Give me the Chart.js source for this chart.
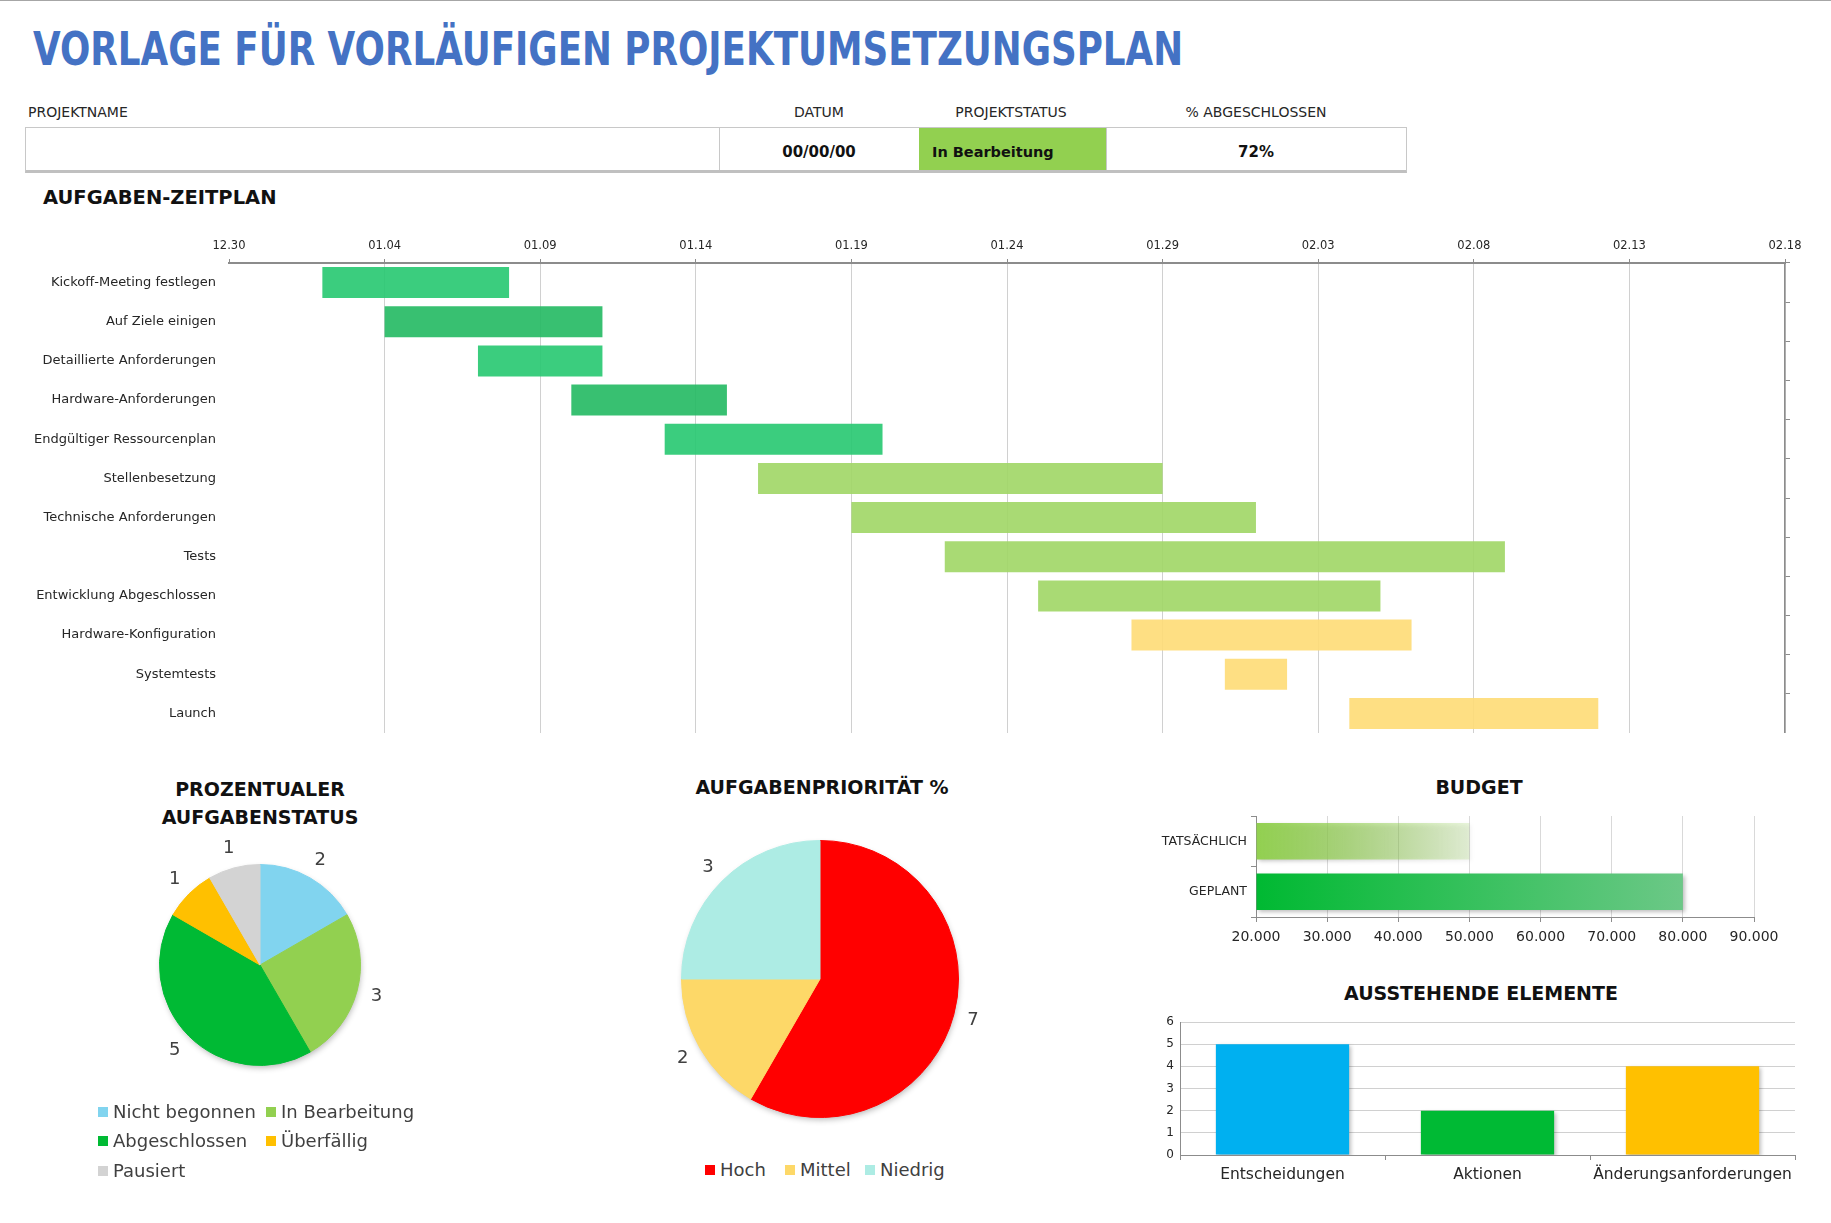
<!DOCTYPE html>
<html lang="de">
<head>
<meta charset="utf-8">
<title>Vorlage für vorläufigen Projektumsetzungsplan</title>
<script src="https://cdn.jsdelivr.net/npm/chart.js@4.4.1/dist/chart.umd.min.js"></script>
<style>
    html, body { margin: 0; padding: 0; background: #fff; }
    body { width: 1831px; height: 1223px; position: relative; overflow: hidden;
           font-family: 'DejaVu Sans', sans-serif; color: #262626; }
    .abs { position: absolute; white-space: nowrap; line-height: 1; }
    .c { transform: translateX(-50%); }
    .hdr { font-size: 14px; }
    .val { font-size: 15px; font-weight: bold; color: #111; }
    .ttl { font-size: 19px; font-weight: bold; color: #111; text-align: center; }
    .sq { position: absolute; width: 10px; height: 10px; }
    .lg { position: absolute; font-size: 18px; line-height: 1; color: #404040; white-space: nowrap; }
    canvas { position: absolute; }
</style>
</head>
<body>

<div class="abs" style="left:0;top:0;width:1831px;height:1px;background:#a6a6a6;"></div>
<div id="title" class="abs" style="left:33px;top:26px;font-size:46px;font-weight:bold;color:#4472c4;transform-origin:0 0;">VORLAGE FÜR VORLÄUFIGEN PROJEKTUMSETZUNGSPLAN</div>

<div class="abs hdr" style="left:28px;top:105px;">PROJEKTNAME</div>
<div class="abs hdr c" style="left:819px;top:105px;">DATUM</div>
<div class="abs hdr c" style="left:1011px;top:105px;">PROJEKTSTATUS</div>
<div class="abs hdr c" style="left:1256px;top:105px;">% ABGESCHLOSSEN</div>

<div class="abs" style="left:25px;top:127px;width:1382px;height:46px;box-sizing:border-box;border:1px solid #c8c8c8;border-bottom:3px solid #c0c0c0;"></div>
<div class="abs" style="left:719px;top:128px;width:1px;height:42px;background:#c8c8c8;"></div>
<div class="abs" style="left:919px;top:128px;width:187px;height:42px;background:#92d050;"></div>
<div class="abs" style="left:1106px;top:128px;width:1px;height:42px;background:#c8c8c8;"></div>
<div class="abs val c" style="left:819px;top:145px;">00/00/00</div>
<div class="abs val" style="left:932px;top:145px;font-size:14.5px;">In Bearbeitung</div>
<div class="abs val c" style="left:1256px;top:145px;">72%</div>

<div class="abs" style="left:43px;top:188px;font-size:19.5px;font-weight:bold;color:#111;">AUFGABEN-ZEITPLAN</div>

<canvas id="gantt" width="1831" height="508" style="left:0;top:225px;"></canvas>

<div class="abs ttl c" style="left:260px;top:775px;line-height:28px;">PROZENTUALER<br>AUFGABENSTATUS</div>
<canvas id="statusPie" width="282" height="282" style="left:119px;top:824px;"></canvas>
<div id="statusLegend"></div>

<div class="abs ttl c" style="left:822px;top:778px;">AUFGABENPRIORITÄT %</div>
<canvas id="priorityPie" width="358" height="358" style="left:641px;top:800px;"></canvas>
<div id="priorityLegend"></div>

<div class="abs ttl c" style="left:1479px;top:778px;">BUDGET</div>
<canvas id="budget" width="691" height="150" style="left:1140px;top:800px;"></canvas>

<div class="abs ttl c" style="left:1481px;top:984px;">AUSSTEHENDE ELEMENTE</div>
<canvas id="pending" width="691" height="190" style="left:1140px;top:1010px;"></canvas>

<script>
// ---- data ----
var taskNames = ['Kickoff-Meeting festlegen', 'Auf Ziele einigen', 'Detaillierte Anforderungen',
    'Hardware-Anforderungen', 'Endgültiger Ressourcenplan', 'Stellenbesetzung',
    'Technische Anforderungen', 'Tests', 'Entwicklung Abgeschlossen',
    'Hardware-Konfiguration', 'Systemtests', 'Launch'];
// days after 12.30
var taskStart = [3, 5, 8, 11, 14, 17, 20, 23, 26, 29, 32, 36];
var taskEnd = [9, 12, 12, 16, 21, 30, 33, 41, 37, 38, 34, 44];
var dateTicks = ['12.30', '01.04', '01.09', '01.14', '01.19', '01.24', '01.29', '02.03', '02.08', '02.13', '02.18'];

var statusLabels = ['Nicht begonnen', 'In Bearbeitung', 'Abgeschlossen', 'Überfällig', 'Pausiert'];
var statusCounts = [2, 3, 5, 1, 1];

var priorityLabels = ['Hoch', 'Mittel', 'Niedrig'];
var priorityCounts = [7, 2, 3];

var budgetLabels = ['TATSÄCHLICH', 'GEPLANT'];
var budgetValues = [50000, 80000];
var budgetMin = 20000, budgetMax = 90000;

var pendingLabels = ['Entscheidungen', 'Aktionen', 'Änderungsanforderungen'];
var pendingValues = [5, 2, 4];

// ---- colors ----
var taskColors = [
    'rgba(38,200,112,0.9)', 'rgba(34,185,98,0.9)', 'rgba(38,200,112,0.9)', 'rgba(34,185,98,0.9)',
    'rgba(38,200,112,0.9)', 'rgba(160,214,101,0.9)', 'rgba(160,214,101,0.9)', 'rgba(160,214,101,0.9)',
    'rgba(160,214,101,0.9)', 'rgba(254,219,118,0.9)', 'rgba(254,219,118,0.9)', 'rgba(254,219,118,0.9)'
];
var statusColors = ['#81d4ef', '#92d050', '#00ba34', '#ffc000', '#d3d3d3'];
var priorityColors = ['#ff0000', '#fdd868', '#adece4'];
var budgetFrom = ['#92d050', '#00b932'];
var budgetTo = ['rgba(146,208,80,0.2)', '#6cc887'];
var pendingColors = ['#00b0f0', '#00ba34', '#ffc000'];

var FONT = "'DejaVu Sans', sans-serif";
Chart.defaults.font.family = FONT;

function fmt(n) {
    return n.toString().replace(/\B(?=(\d{3})+(?!\d))/g, '.');
}

// fit title to its width in the reference
(function() {
    var t = document.getElementById('title');
    t.style.transform = 'scaleX(' + (1150 / t.offsetWidth) + ')';
})();

// ---- plugins ----
var outerLabels = {
    id: 'outerLabels',
    afterDatasetsDraw: function(chart) {
        var ctx = chart.ctx;
        var meta = chart.getDatasetMeta(0);
        var data = chart.data.datasets[0].data;
        ctx.save();
        ctx.font = '18px ' + FONT;
        ctx.fillStyle = '#404040';
        ctx.textAlign = 'center';
        ctx.textBaseline = 'middle';
        meta.data.forEach(function(arc, i) {
            var mid = (arc.startAngle + arc.endAngle) / 2;
            var r = arc.outerRadius + 20;
            ctx.fillText(String(data[i]), arc.x + Math.cos(mid) * r, arc.y + Math.sin(mid) * r);
        });
        ctx.restore();
    }
};

var pieShadow = {
    id: 'pieShadow',
    beforeDatasetsDraw: function(chart) {
        var arc = chart.getDatasetMeta(0).data[0];
        if (!arc) return;
        var ctx = chart.ctx;
        ctx.save();
        ctx.shadowColor = 'rgba(0,0,0,0.3)';
        ctx.shadowBlur = 6;
        ctx.shadowOffsetX = 1;
        ctx.shadowOffsetY = 3;
        ctx.fillStyle = '#fff';
        ctx.beginPath();
        ctx.arc(arc.x, arc.y, arc.outerRadius - 1, 0, Math.PI * 2);
        ctx.fill();
        ctx.restore();
    }
};

var barShadow = {
    id: 'barShadow',
    beforeDatasetDraw: function(chart) {
        var ctx = chart.ctx;
        ctx.save();
        ctx.shadowColor = 'rgba(0,0,0,0.25)';
        ctx.shadowBlur = 4;
        ctx.shadowOffsetX = 2;
        ctx.shadowOffsetY = 2;
    },
    afterDatasetDraw: function(chart) {
        chart.ctx.restore();
    }
};

var noPlugins = { legend: { display: false }, tooltip: { enabled: false } };

// vertical axes would otherwise push the plot area in for label overflow
function fixedWidth(w) {
    return function(s) {
        s.width = w;
        s.paddingTop = 0;
        s.paddingBottom = 0;
    };
}

// ---- Gantt ----
new Chart(document.getElementById('gantt'), {
    type: 'bar',
    data: {
        labels: taskNames,
        datasets: [{
            data: taskNames.map(function(n, i) { return [taskStart[i], taskEnd[i]]; }),
            backgroundColor: taskColors,
            borderWidth: 0,
            barPercentage: 0.79,
            categoryPercentage: 1
        }]
    },
    options: {
        indexAxis: 'y',
        responsive: false,
        animation: false,
        layout: { padding: 0 },
        plugins: noPlugins,
        scales: {
            x: {
                type: 'linear', position: 'top', min: 0, max: 50,
                ticks: {
                    stepSize: 5, padding: 6, color: '#262626', font: { size: 11.5 },
                    callback: function(v, i) { return dateTicks[i]; }
                },
                grid: {
                    color: function(c) { return c.index === 0 ? 'rgba(0,0,0,0)' : '#d0d0d0'; },
                    tickColor: '#8c8c8c', tickLength: 4
                },
                border: { color: '#8c8c8c', width: 2 },
                afterFit: function(s) { s.height = 38; }
            },
            y: {
                ticks: { color: '#262626', font: { size: 13 }, padding: 13, autoSkip: false },
                grid: { display: false, drawTicks: false },
                border: { display: false },
                afterFit: fixedWidth(229)
            },
            y2: {
                type: 'category', position: 'right', offset: true,
                ticks: { display: false },
                grid: { offset: true, drawOnChartArea: false, tickLength: 5, color: '#8c8c8c' },
                border: { display: true, color: '#8c8c8c', width: 1.5 },
                afterFit: fixedWidth(46)
            }
        }
    }
});

// ---- pies ----
function pie(id, labels, values, colors) {
    return new Chart(document.getElementById(id), {
        type: 'pie',
        data: {
            labels: labels,
            datasets: [{
                data: values,
                backgroundColor: colors,
                borderColor: colors,
                borderWidth: 1,
                hoverOffset: 0,
                offset: 0
            }]
        },
        options: {
            responsive: false,
            animation: false,
            layout: { padding: 40 },
            plugins: noPlugins
        },
        plugins: [pieShadow, outerLabels]
    });
}
pie('statusPie', statusLabels, statusCounts, statusColors);
pie('priorityPie', priorityLabels, priorityCounts, priorityColors);

// ---- legends ----
function legendItem(parent, x, y, color, text) {
    var sq = document.createElement('div');
    sq.className = 'sq';
    sq.style.left = x + 'px';
    sq.style.top = (y - 5) + 'px';
    sq.style.background = color;
    parent.appendChild(sq);
    var t = document.createElement('div');
    t.className = 'lg';
    t.style.left = (x + 15) + 'px';
    t.style.top = (y - 8.6) + 'px';
    t.textContent = text;
    parent.appendChild(t);
}
var sl = document.getElementById('statusLegend');
var slCols = [98, 266], slRows = [1111.5, 1141, 1171];
statusLabels.forEach(function(l, i) {
    legendItem(sl, slCols[i % 2], slRows[Math.floor(i / 2)], statusColors[i], l);
});
var pl = document.getElementById('priorityLegend');
var plCols = [705, 785, 865];
priorityLabels.forEach(function(l, i) {
    legendItem(pl, plCols[i], 1170, priorityColors[i], l);
});

// ---- budget ----
new Chart(document.getElementById('budget'), {
    type: 'bar',
    data: {
        labels: budgetLabels,
        datasets: [{
            data: budgetValues,
            base: budgetMin,
            backgroundColor: function(c) {
                var chart = c.chart;
                var i = c.dataIndex;
                if (!chart.chartArea || i === undefined) return budgetFrom[0];
                var xs = chart.scales.x;
                var g = chart.ctx.createLinearGradient(xs.getPixelForValue(budgetMin), 0, xs.getPixelForValue(budgetValues[i]), 0);
                g.addColorStop(0, budgetFrom[i]);
                g.addColorStop(1, budgetTo[i]);
                return g;
            },
            borderWidth: 0,
            barPercentage: 0.72,
            categoryPercentage: 1
        }]
    },
    options: {
        indexAxis: 'y',
        responsive: false,
        animation: false,
        layout: { padding: { top: 16, right: 77, left: 0, bottom: 0 } },
        plugins: noPlugins,
        scales: {
            x: {
                min: budgetMin, max: budgetMax,
                ticks: { stepSize: 10000, color: '#262626', font: { size: 14 }, padding: 7, maxRotation: 0,
                         callback: function(v) { return fmt(v); } },
                grid: { color: '#d9d9d9', tickColor: '#8c8c8c', tickLength: 5 },
                border: { color: '#8c8c8c' },
                afterFit: function(s) { s.height = 33; }
            },
            y: {
                ticks: { color: '#262626', font: { size: 12.5 }, padding: 4 },
                grid: { offset: true, drawOnChartArea: false, tickLength: 5, color: '#8c8c8c' },
                border: { color: '#8c8c8c' },
                afterFit: fixedWidth(116)
            }
        }
    },
    plugins: [barShadow]
});

// ---- pending items ----
new Chart(document.getElementById('pending'), {
    type: 'bar',
    data: {
        labels: pendingLabels,
        datasets: [{
            data: pendingValues,
            backgroundColor: pendingColors,
            borderWidth: 0,
            barPercentage: 0.65,
            categoryPercentage: 1
        }]
    },
    options: {
        responsive: false,
        animation: false,
        layout: { padding: { top: 12, right: 36, left: 0, bottom: 0 } },
        plugins: noPlugins,
        scales: {
            x: {
                ticks: { color: '#262626', font: { size: 15.5 }, padding: 6, maxRotation: 0, autoSkip: false },
                grid: { offset: true, drawOnChartArea: false, tickLength: 5, color: '#8c8c8c' },
                border: { color: '#8c8c8c' },
                afterFit: function(s) { s.height = 45; }
            },
            y: {
                min: 0, max: 6,
                ticks: { stepSize: 1, color: '#262626', font: { size: 12 }, padding: 6 },
                grid: { color: '#d0d0d0', drawTicks: false },
                border: { color: '#8c8c8c' },
                afterFit: fixedWidth(40)
            }
        }
    },
    plugins: [barShadow]
});
</script>
</body>
</html>
